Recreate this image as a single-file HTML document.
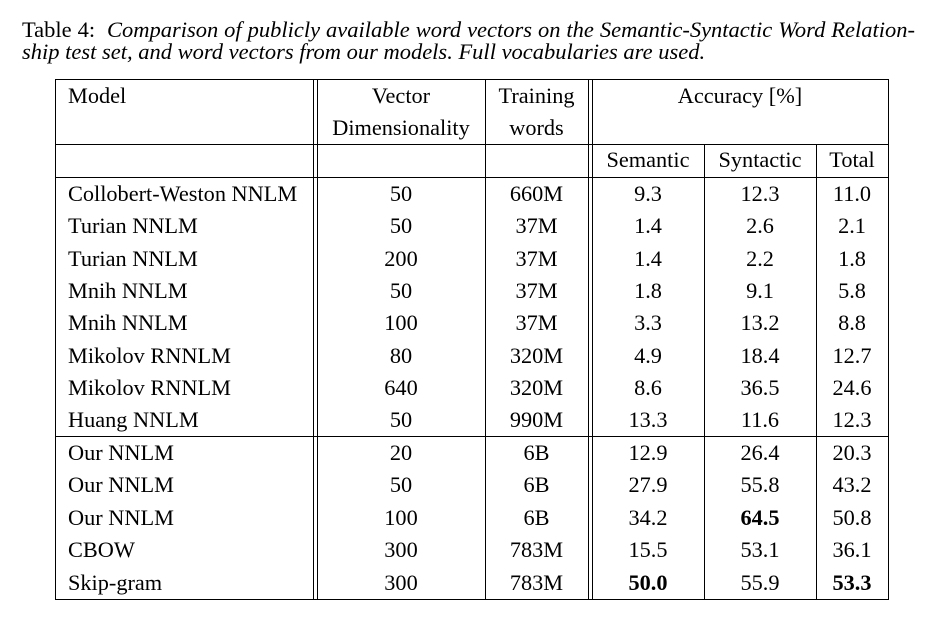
<!DOCTYPE html>
<html><head><meta charset="utf-8"><style>
body{margin:0;width:932px;height:621px;background:#fff;position:relative;overflow:hidden;font-family:"Liberation Serif",serif;color:#000}
.cap{position:absolute;left:22px;width:893px;font-size:22.5px;line-height:22px}
.cap i{font-style:italic}
.l{position:absolute;background:#000}
.t{position:absolute;font-size:22.3px;line-height:32px;height:32px;white-space:nowrap}
.c{text-align:center}
b{font-weight:bold}
</style></head><body>
<div class="cap" style="top:19px;text-align:justify;text-align-last:justify">Table 4:&nbsp; <i>Comparison of publicly available word vectors on the Semantic-Syntactic Word Relation-</i></div>
<div class="cap" style="top:41px"><i>ship test set, and word vectors from our models. Full vocabularies are used.</i></div>

<div class="l" style="left:55px;top:79px;width:834px;height:1px"></div>
<div class="l" style="left:55px;top:144px;width:834px;height:1px"></div>
<div class="l" style="left:55px;top:177px;width:834px;height:1px"></div>
<div class="l" style="left:55px;top:436px;width:834px;height:1px"></div>
<div class="l" style="left:55px;top:599px;width:834px;height:1px"></div>
<div class="l" style="left:55px;top:79px;width:1px;height:521px"></div>
<div class="l" style="left:313px;top:79px;width:1px;height:521px"></div>
<div class="l" style="left:317px;top:79px;width:1px;height:521px"></div>
<div class="l" style="left:485px;top:79px;width:1px;height:521px"></div>
<div class="l" style="left:588px;top:79px;width:1px;height:521px"></div>
<div class="l" style="left:592px;top:79px;width:1px;height:521px"></div>
<div class="l" style="left:704px;top:144px;width:1px;height:456px"></div>
<div class="l" style="left:816px;top:144px;width:1px;height:456px"></div>
<div class="l" style="left:888px;top:79px;width:1px;height:521px"></div>

<div class="t" style="left:68px;top:80px">Model</div>
<div class="t c" style="left:317px;width:168px;top:80px">Vector</div>
<div class="t c" style="left:317px;width:168px;top:112px">Dimensionality</div>
<div class="t c" style="left:485px;width:103px;top:80px">Training</div>
<div class="t c" style="left:485px;width:103px;top:112px">words</div>
<div class="t c" style="left:592px;width:296px;top:80px">Accuracy [%]</div>
<div class="t c" style="left:592px;width:112px;top:144px">Semantic</div>
<div class="t c" style="left:704px;width:112px;top:144px">Syntactic</div>
<div class="t c" style="left:816px;width:72px;top:144px">Total</div>

<div class="t" style="left:68px;top:178px">Collobert-Weston NNLM</div><div class="t c" style="left:317px;width:168px;top:178px">50</div><div class="t c" style="left:485px;width:103px;top:178px">660M</div><div class="t c" style="left:592px;width:112px;top:178px">9.3</div><div class="t c" style="left:704px;width:112px;top:178px">12.3</div><div class="t c" style="left:816px;width:72px;top:178px">11.0</div>
<div class="t" style="left:68px;top:210px">Turian NNLM</div><div class="t c" style="left:317px;width:168px;top:210px">50</div><div class="t c" style="left:485px;width:103px;top:210px">37M</div><div class="t c" style="left:592px;width:112px;top:210px">1.4</div><div class="t c" style="left:704px;width:112px;top:210px">2.6</div><div class="t c" style="left:816px;width:72px;top:210px">2.1</div>
<div class="t" style="left:68px;top:243px">Turian NNLM</div><div class="t c" style="left:317px;width:168px;top:243px">200</div><div class="t c" style="left:485px;width:103px;top:243px">37M</div><div class="t c" style="left:592px;width:112px;top:243px">1.4</div><div class="t c" style="left:704px;width:112px;top:243px">2.2</div><div class="t c" style="left:816px;width:72px;top:243px">1.8</div>
<div class="t" style="left:68px;top:275px">Mnih NNLM</div><div class="t c" style="left:317px;width:168px;top:275px">50</div><div class="t c" style="left:485px;width:103px;top:275px">37M</div><div class="t c" style="left:592px;width:112px;top:275px">1.8</div><div class="t c" style="left:704px;width:112px;top:275px">9.1</div><div class="t c" style="left:816px;width:72px;top:275px">5.8</div>
<div class="t" style="left:68px;top:307px">Mnih NNLM</div><div class="t c" style="left:317px;width:168px;top:307px">100</div><div class="t c" style="left:485px;width:103px;top:307px">37M</div><div class="t c" style="left:592px;width:112px;top:307px">3.3</div><div class="t c" style="left:704px;width:112px;top:307px">13.2</div><div class="t c" style="left:816px;width:72px;top:307px">8.8</div>
<div class="t" style="left:68px;top:340px">Mikolov RNNLM</div><div class="t c" style="left:317px;width:168px;top:340px">80</div><div class="t c" style="left:485px;width:103px;top:340px">320M</div><div class="t c" style="left:592px;width:112px;top:340px">4.9</div><div class="t c" style="left:704px;width:112px;top:340px">18.4</div><div class="t c" style="left:816px;width:72px;top:340px">12.7</div>
<div class="t" style="left:68px;top:372px">Mikolov RNNLM</div><div class="t c" style="left:317px;width:168px;top:372px">640</div><div class="t c" style="left:485px;width:103px;top:372px">320M</div><div class="t c" style="left:592px;width:112px;top:372px">8.6</div><div class="t c" style="left:704px;width:112px;top:372px">36.5</div><div class="t c" style="left:816px;width:72px;top:372px">24.6</div>
<div class="t" style="left:68px;top:404px">Huang NNLM</div><div class="t c" style="left:317px;width:168px;top:404px">50</div><div class="t c" style="left:485px;width:103px;top:404px">990M</div><div class="t c" style="left:592px;width:112px;top:404px">13.3</div><div class="t c" style="left:704px;width:112px;top:404px">11.6</div><div class="t c" style="left:816px;width:72px;top:404px">12.3</div>
<div class="t" style="left:68px;top:437px">Our NNLM</div><div class="t c" style="left:317px;width:168px;top:437px">20</div><div class="t c" style="left:485px;width:103px;top:437px">6B</div><div class="t c" style="left:592px;width:112px;top:437px">12.9</div><div class="t c" style="left:704px;width:112px;top:437px">26.4</div><div class="t c" style="left:816px;width:72px;top:437px">20.3</div>
<div class="t" style="left:68px;top:469px">Our NNLM</div><div class="t c" style="left:317px;width:168px;top:469px">50</div><div class="t c" style="left:485px;width:103px;top:469px">6B</div><div class="t c" style="left:592px;width:112px;top:469px">27.9</div><div class="t c" style="left:704px;width:112px;top:469px">55.8</div><div class="t c" style="left:816px;width:72px;top:469px">43.2</div>
<div class="t" style="left:68px;top:502px">Our NNLM</div><div class="t c" style="left:317px;width:168px;top:502px">100</div><div class="t c" style="left:485px;width:103px;top:502px">6B</div><div class="t c" style="left:592px;width:112px;top:502px">34.2</div><div class="t c" style="left:704px;width:112px;top:502px"><b>64.5</b></div><div class="t c" style="left:816px;width:72px;top:502px">50.8</div>
<div class="t" style="left:68px;top:534px">CBOW</div><div class="t c" style="left:317px;width:168px;top:534px">300</div><div class="t c" style="left:485px;width:103px;top:534px">783M</div><div class="t c" style="left:592px;width:112px;top:534px">15.5</div><div class="t c" style="left:704px;width:112px;top:534px">53.1</div><div class="t c" style="left:816px;width:72px;top:534px">36.1</div>
<div class="t" style="left:68px;top:567px">Skip-gram</div><div class="t c" style="left:317px;width:168px;top:567px">300</div><div class="t c" style="left:485px;width:103px;top:567px">783M</div><div class="t c" style="left:592px;width:112px;top:567px"><b>50.0</b></div><div class="t c" style="left:704px;width:112px;top:567px">55.9</div><div class="t c" style="left:816px;width:72px;top:567px"><b>53.3</b></div>
</body></html>
